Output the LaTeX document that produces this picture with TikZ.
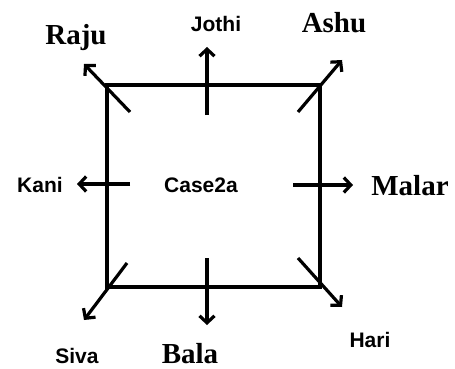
\documentclass[tikz,border=0pt]{standalone}
\usepackage{fontspec}
\usepackage{tikz}
\usetikzlibrary{calc,arrows.meta}

\newfontfamily\bigname{Liberation Serif}
\newfontfamily\smallname{Liberation Sans}

\tikzset{
  ray/.style={line width=3.2pt, -{Straight Barb[length=7pt, width=15pt, line width=3.2pt]}},
  bigtag/.style={anchor=base, font=\bigname\bfseries\fontsize{29}{29}\selectfont, inner sep=0pt},
  smalltag/.style={anchor=base, font=\smallname\bfseries\fontsize{21}{21}\selectfont, inner sep=0pt}
}

\begin{document}
\begin{tikzpicture}[x=1pt, y=-1pt]
    \useasboundingbox (0,0) rectangle (455,369);

    % Square
    \coordinate (TL) at (107,85);
    \coordinate (TR) at (320,85);
    \coordinate (BR) at (320,287);
    \coordinate (BL) at (107,287);
    \draw[line width=3.4pt, line join=miter] (TL) -- (TR) -- (BR) -- (BL) -- cycle;

    % Names
    \node[bigtag] (raju) at (76,45) {Raju};
    \node[smalltag] (jothi) at (216,32) {Jothi};
    \node[bigtag] (ashu) at (334,33) {Ashu};
    \node[smalltag] (kani) at (40,192) {Kani};
    \node[smalltag] (case) at (201,192) {Case2a};
    \node[bigtag] (malar) at (410,195) {Malar};
    \node[smalltag] (siva) at (77,363) {Siva};
    \node[bigtag] (bala) at (190,363) {Bala};
    \node[smalltag] (hari) at (370,347) {Hari};

    % Arrow ends
    \coordinate (r1) at (130,112); \coordinate (r2) at (84,64);
    \coordinate (j1) at (207,115); \coordinate (j2) at (207,47);
    \coordinate (a1) at (298,112); \coordinate (a2) at (342,60);
    \coordinate (k1) at (130,184); \coordinate (k2) at (77,184);
    \coordinate (m1) at (293,185); \coordinate (m2) at (353,185);
    \coordinate (s1) at (127,263); \coordinate (s2) at (84,320);
    \coordinate (b1) at (207,258); \coordinate (b2) at (207,325);
    \coordinate (h1) at (298,258); \coordinate (h2) at (342,307);

    % Arrows
    \foreach \p in {r,j,a,k,m,s,b,h}
        \draw[ray] (\p1) -- (\p2);

\end{tikzpicture}
\end{document}
